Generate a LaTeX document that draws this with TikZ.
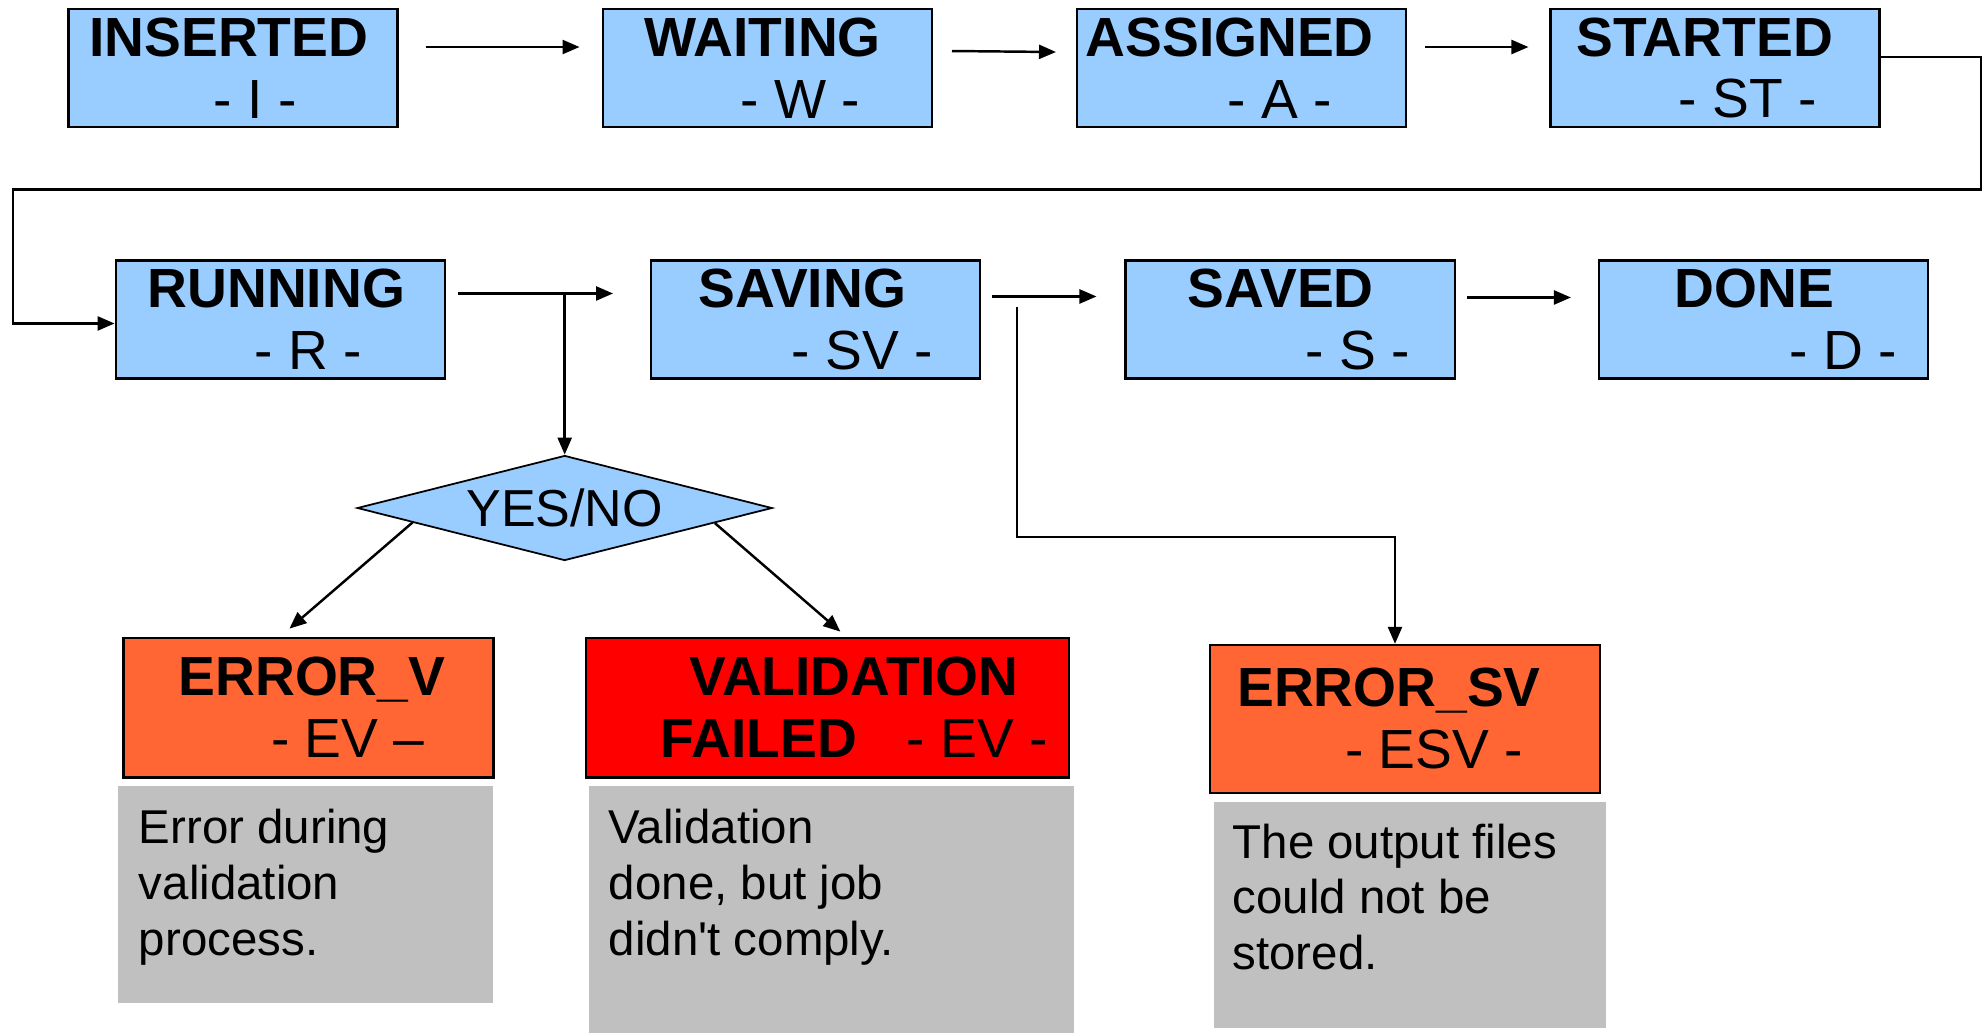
\documentclass[tikz,border=0pt]{standalone}
\usepackage{fontspec}
\setmainfont{Liberation Sans}
\usepackage{tikz}
\usetikzlibrary{positioning}
\usetikzlibrary{calc,shapes.geometric,arrows.meta}
\definecolor{stateblue}{HTML}{99CCFF}
\definecolor{errorange}{HTML}{FF6633}
\definecolor{failred}{HTML}{FF0000}
\definecolor{notegray}{HTML}{C0C0C0}
\newcommand{\stline}[2]{\makebox[0pt]{\hspace*{#1}#2}}

\begin{document}
\begin{tikzpicture}[node distance=1.4cm,
    state/.style={draw, fill=stateblue, line width=0.7pt, minimum width=3.29cm, minimum height=1.18cm,
      inner sep=0pt, align=center, font=\fontsize{15.7}{17.6}\selectfont},
    errstate/.style={state, fill=errorange},
    note/.style={fill=notegray, inner sep=0pt},
    notetext/.style={anchor=north west, inner sep=0pt, align=left, font=\fontsize{13.5}{15.9}\selectfont},
    arr/.style={-{Triangle[length=0.17cm,width=0.14cm]}, line width=0.7pt}]
      \useasboundingbox (0,0) rectangle (19.88,-10.32);
      % first row
      \node(ins) [state] at (2.328,-0.68) {\stline{-0.08cm}{\textbf{INSERTED}}\\\stline{0.45cm}{- I -}};
      \node(wait) [state, right=2.03cm of ins] {\stline{-0.09cm}{\textbf{WAITING}}\\\stline{0.66cm}{- W -}};
      \node(asg) [state, right=1.43cm of wait] {\stline{-0.24cm}{\textbf{ASSIGNED}}\\\stline{0.76cm}{- A -}};
      \node(sta) [state, right=1.42cm of asg] {\stline{-0.21cm}{\textbf{STARTED}}\\\stline{0.65cm}{- ST -}};
      % second row
      \node(run) [state, below=1.31cm of ins, xshift=0.475cm] {\stline{-0.08cm}{\textbf{RUNNING}}\\\stline{0.56cm}{- R -}};
      \node(sav) [state, right=2.04cm of run] {\stline{-0.27cm}{\textbf{SAVING}}\\\stline{0.93cm}{- SV -}};
      \node(svd) [state, right=1.43cm of sav] {\stline{-0.19cm}{\textbf{SAVED}}\\\stline{1.35cm}{- S -}};
      \node(done) [state, right=1.42cm of svd] {\stline{-0.18cm}{\textbf{DONE}}\\\stline{1.59cm}{- D -}};
      % check and errors
      \node(dec) [diamond, draw, fill=stateblue, line width=0.5pt, aspect=4, inner sep=0pt,
        minimum width=4.15cm, minimum height=1.05cm, font=\fontsize{14.8}{17}\selectfont] at (5.647,-5.08) {YES/NO};
      \node(errv) [errstate, minimum width=3.70cm, minimum height=1.395cm] at (3.084,-7.076)
        {\stline{0.07cm}{\textbf{ERROR\_V}}\\\stline{0.79cm}{- EV --}};
      \node(val) [state, fill=failred, minimum width=4.83cm, minimum height=1.395cm, right=0.9cm of errv]
        {\stline{0.53cm}{\textbf{VALIDATION}}\\\stline{0.54cm}{\textbf{FAILED}\hspace{0.5cm}- EV -}};
      \node(esv) [errstate, minimum width=3.9cm, minimum height=1.477cm] at (14.05,-7.189)
        {\stline{-0.32cm}{\textbf{ERROR\_SV}}\\\stline{0.58cm}{- ESV -}};
      % notes
      \node(g1) [note, minimum width=3.753cm, minimum height=2.166cm, below=0.067cm of errv, xshift=-0.028cm] {};
      \node(g2) [note, minimum width=4.85cm, minimum height=2.48cm, below=0.067cm of val, xshift=0.04cm] {};
      \node(g3) [note, minimum width=3.927cm, minimum height=2.259cm, below=0.07cm of esv, xshift=0.05cm] {};
      \node(g1t) [notetext] at ([shift={(0.21,-0.23)}]g1.north west) {Error during\\validation\\process.};
      \node(g2t) [notetext] at ([shift={(0.2,-0.23)}]g2.north west) {Validation\\done, but job\\didn\textquotesingle t comply.};
      \node(g3t) [notetext] at ([shift={(0.19,-0.22)}]g3.north west) {The output files\\could not be\\stored.};

      \coordinate(loopr) at (19.81,-1.893);
      \coordinate(loopl) at (0.128,-1.893);
      \coordinate(split) at ([yshift=0.25cm]run.east);
      \coordinate(bend) at (13.95,-5.37);

      \draw[arr] ([xshift=0.27cm,yshift=0.21cm]ins.east) -- ([xshift=-0.22cm,yshift=0.21cm]wait.west);
      \draw[arr] ([xshift=0.19cm,yshift=0.17cm]wait.east) -- ([xshift=-0.2cm,yshift=0.16cm]asg.west);
      \draw[arr] ([xshift=0.18cm,yshift=0.21cm]asg.east) -- ([xshift=-0.21cm,yshift=0.21cm]sta.west);
      \draw[arr] ([yshift=0.11cm]sta.east) -| (loopr) -- (loopl) |- ([yshift=-0.04cm]run.west);
      \draw[arr] ([xshift=0.12cm,yshift=0.26cm]run.east) -- ([xshift=-0.37cm,yshift=0.26cm]sav.west);
      \draw[arr] ([xshift=0.11cm,yshift=0.23cm]sav.east) -- ([xshift=-0.28cm,yshift=0.23cm]svd.west);
      \draw[arr] ([xshift=0.11cm,yshift=0.22cm]svd.east) -- ([xshift=-0.27cm,yshift=0.22cm]done.west);
      \draw[arr] (split -| dec.north) -- (dec.north);
      \draw[arr] ([xshift=0.355cm,yshift=0.125cm]sav.east) |- (bend) -- (bend |- esv.north);
      \draw[arr] ($(dec.west)!0.27!(dec.south)$) -- ([xshift=-0.19cm,yshift=0.08cm]errv.north);
      \draw[arr] ($(dec.east)!0.28!(dec.south)$) -- ([xshift=0.13cm,yshift=0.05cm]val.north);
    \end{tikzpicture}
\end{document}
